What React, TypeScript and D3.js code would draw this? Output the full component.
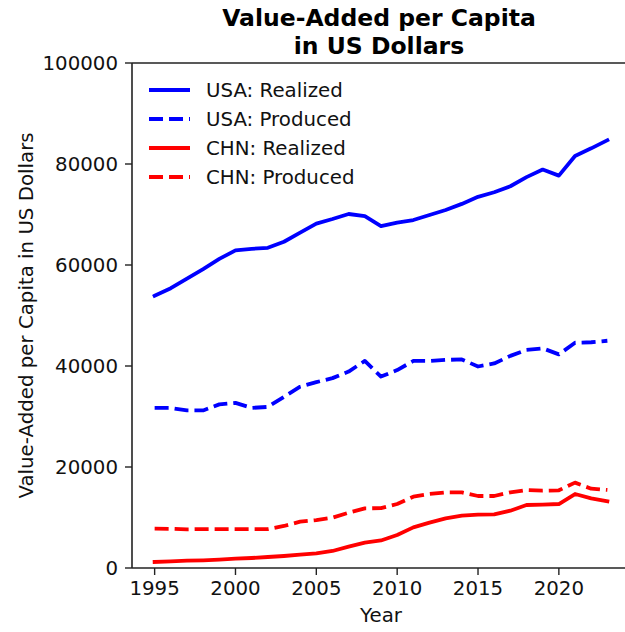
import React, { useRef, useEffect } from "react";
import * as d3 from "d3";

const years = d3.range(1995, 2024);

const usaRealized = [
  53900, 55400, 57300, 59200, 61200, 62900, 63200, 63400, 64600, 66400,
  68200, 69100, 70100, 69700, 67700, 68400, 68900, 69900, 70900, 72100,
  73500, 74400, 75600, 77400, 78900, 77700, 81600, 83100, 84700,
];
const usaProduced = [
  31700, 31700, 31200, 31200, 32400, 32700, 31700, 31900, 33900, 35900,
  36800, 37600, 38900, 41000, 37900, 39200, 41000, 41000, 41200, 41300,
  39900, 40500, 42000, 43200, 43500, 42300, 44600, 44700, 45000,
];
const chnRealized = [
  1200, 1320, 1450, 1520, 1650, 1850, 1980, 2180, 2380, 2640,
  2900, 3370, 4220, 5010, 5450, 6530, 8050, 8980, 9830, 10360,
  10560, 10600, 11350, 12480, 12540, 12670, 14650, 13800, 13200,
];
const chnProduced = [
  7800, 7760, 7660, 7700, 7700, 7700, 7700, 7700, 8320, 9170,
  9500, 9970, 10960, 11810, 11850, 12670, 14120, 14650, 14980, 14980,
  14260, 14260, 14980, 15450, 15310, 15380, 16900, 15710, 15450,
];

const seriesNames = ["USA: Realized", "USA: Produced", "CHN: Realized", "CHN: Produced"];
const seriesColors = ["#0000ff", "#0000ff", "#ff0000", "#ff0000"];
const seriesDashed = [false, true, false, true];
const seriesValues = [usaRealized, usaProduced, chnRealized, chnProduced];

const yTicks = [0, 20000, 40000, 60000, 80000, 100000];
const xTicks = [1995, 2000, 2005, 2010, 2015, 2020];

const App = () => {
  const ref = useRef<SVGSVGElement | null>(null);

  useEffect(() => {
    const width = 625;
    const height = 632;
    const margin = { top: 63, right: -5, bottom: 64, left: 132 };
    const font = "DejaVu Sans";
    const fs = 19.8;

    const svg = d3.select(ref.current);
    svg.selectAll("*").remove();

    const x = d3
      .scaleLinear()
      .domain([1993.6, 2024.4])
      .range([margin.left, width - margin.right]);
    const y = d3
      .scaleLinear()
      .domain([0, 100000])
      .range([height - margin.bottom, margin.top]);

    // lines
    const line = d3
      .line<number>()
      .x((_, i) => x(years[i]))
      .y((d) => y(d));

    seriesValues.forEach((vals, k) => {
      svg
        .append("path")
        .datum(vals)
        .attr("d", line)
        .attr("fill", "none")
        .attr("stroke", seriesColors[k])
        .attr("stroke-width", 3.8)
        .attr("stroke-linejoin", "round")
        .attr("stroke-linecap", seriesDashed[k] ? "butt" : "square")
        .attr("stroke-dasharray", seriesDashed[k] ? "14,6" : null);
    });

    // spines
    const spine = "#222";
    svg
      .append("line")
      .attr("x1", margin.left)
      .attr("x2", margin.left)
      .attr("y1", margin.top)
      .attr("y2", height - margin.bottom)
      .attr("stroke", spine)
      .attr("stroke-width", 1.6);
    svg
      .append("line")
      .attr("x1", margin.left)
      .attr("x2", width)
      .attr("y1", height - margin.bottom)
      .attr("y2", height - margin.bottom)
      .attr("stroke", spine)
      .attr("stroke-width", 1.6);
    svg
      .append("line")
      .attr("x1", margin.left)
      .attr("x2", width)
      .attr("y1", margin.top)
      .attr("y2", margin.top)
      .attr("stroke", spine)
      .attr("stroke-width", 1.6);

    // y ticks
    const yg = svg.append("g");
    yTicks.forEach((t) => {
      yg.append("line")
        .attr("x1", margin.left - 7)
        .attr("x2", margin.left)
        .attr("y1", y(t))
        .attr("y2", y(t))
        .attr("stroke", spine)
        .attr("stroke-width", 1.4);
      yg.append("text")
        .attr("x", margin.left - 14)
        .attr("y", y(t))
        .attr("dy", "0.36em")
        .attr("text-anchor", "end")
        .attr("font-family", font)
        .attr("font-size", fs)
        .attr("fill", "#111")
        .text(t);
    });

    // x ticks
    const xg = svg.append("g");
    xTicks.forEach((t) => {
      xg.append("line")
        .attr("x1", x(t))
        .attr("x2", x(t))
        .attr("y1", height - margin.bottom)
        .attr("y2", height - margin.bottom + 7)
        .attr("stroke", spine)
        .attr("stroke-width", 1.4);
      xg.append("text")
        .attr("x", x(t))
        .attr("y", height - margin.bottom + 27)
        .attr("text-anchor", "middle")
        .attr("font-family", font)
        .attr("font-size", fs)
        .attr("fill", "#111")
        .text(t);
    });

    // axis labels
    svg
      .append("text")
      .attr("x", 381)
      .attr("y", 622)
      .attr("text-anchor", "middle")
      .attr("font-family", font)
      .attr("font-size", fs)
      .attr("fill", "#111")
      .text("Year");
    svg
      .append("text")
      .attr("transform", `translate(33,${(margin.top + height - margin.bottom) / 2}) rotate(-90)`)
      .attr("text-anchor", "middle")
      .attr("font-family", font)
      .attr("font-size", fs)
      .attr("fill", "#111")
      .text("Value-Added per Capita in US Dollars");

    // title
    const title = svg
      .append("text")
      .attr("text-anchor", "middle")
      .attr("font-family", font)
      .attr("font-weight", "bold")
      .attr("font-size", 23.5)
      .attr("fill", "#000");
    title.append("tspan").attr("x", 379).attr("y", 26).text("Value-Added per Capita");
    title.append("tspan").attr("x", 379).attr("y", 54).text("in US Dollars");

    // legend
    const lg = svg.append("g");
    seriesNames.forEach((name, k) => {
      const ly = 90 + k * 29;
      lg.append("line")
        .attr("x1", 149)
        .attr("x2", 190)
        .attr("y1", ly)
        .attr("y2", ly)
        .attr("stroke", seriesColors[k])
        .attr("stroke-width", 3.8)
        .attr("stroke-dasharray", seriesDashed[k] ? "14,6" : null);
      lg.append("text")
        .attr("x", 206)
        .attr("y", ly)
        .attr("dy", "0.36em")
        .attr("font-family", font)
        .attr("font-size", fs)
        .attr("fill", "#111")
        .text(name);
    });
  }, []);

  return (
    <svg
      ref={ref}
      width={625}
      height={632}
      style={{ position: "fixed", left: 0, top: 0, background: "#fff" }}
    />
  );
};

export default App;
